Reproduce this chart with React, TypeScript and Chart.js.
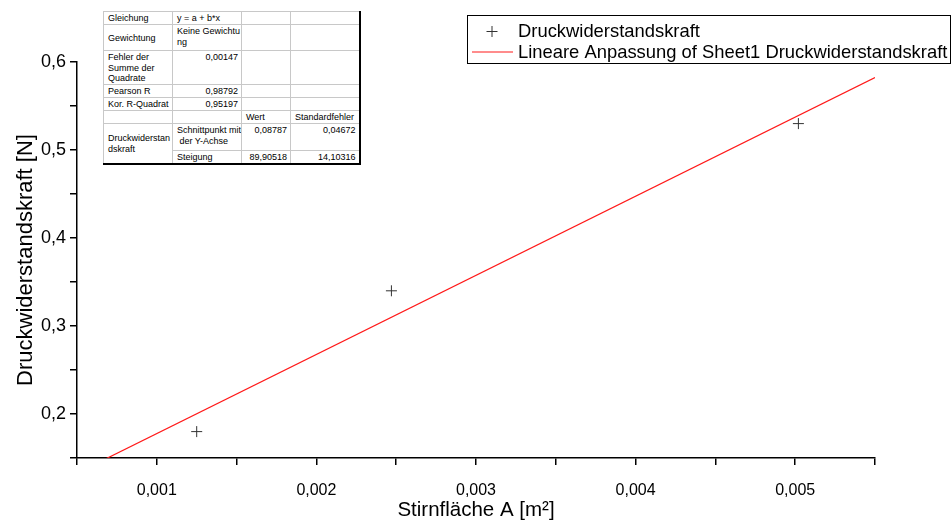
import React, { useEffect, useRef } from 'react';
import { Chart, registerables } from 'chart.js';

Chart.register(...registerables);

// Measured points: frontal area A [m²] vs. drag force [N]
const areaValues = [0.00125, 0.00247, 0.00502];
const forceValues = [0.18, 0.34, 0.53];

// Linear fit parameters y = a + b*x
const fitIntercept = 0.08787;
const fitSlope = 89.90518;

// Axis ranges and labelled ticks
const xMin = 0.0005;
const xMax = 0.0055;
const xStep = 0.0005;
const yMin = 0.15;
const yMax = 0.6;
const yStep = 0.05;
const xTickLabels = ['0,001', '0,002', '0,003', '0,004', '0,005'];
const yTickLabels = ['0,2', '0,3', '0,4', '0,5', '0,6'];

const pointLabel = 'Druckwiderstandskraft';
const fitLabel = 'Lineare Anpassung of Sheet1 Druckwiderstandskraft';
const xTitle = 'Stirnfläche A [m²]';
const yTitle = 'Druckwiderstandskraft [N]';

// Fit summary table contents
const fitEquation = 'y = a + b*x';
const fitWeighting = ['Keine Gewichtu', 'ng'];
const fitRss = '0,00147';
const fitPearson = '0,98792';
const fitAdjR2 = '0,95197';
const fitInterceptText = ['0,08787', '0,04672'];
const fitSlopeText = ['89,90518', '14,10316'];

const FONT = '"Liberation Sans", Arial, sans-serif';

const fmt = (v: number, digits: number) => v.toFixed(digits).replace('.', ',');
// true when v is (numerically) a whole multiple of unit
const isMultiple = (v: number, unit: number) => Math.abs(v / unit - Math.round(v / unit)) < 1e-6;

// Boxed legend drawn at the top right of the canvas
const boxLegend = {
  id: 'boxLegend',
  afterDraw(chart: any) {
    const ctx = chart.ctx;
    const left = 467.5;
    const top = 15.5;
    const right = 950.5;
    const bottom = 63.5;
    ctx.save();
    ctx.strokeStyle = '#000';
    ctx.lineWidth = 1;
    ctx.strokeRect(left, top, right - left, bottom - top);
    ctx.font = '18.4px ' + FONT;
    ctx.textBaseline = 'middle';
    ctx.fillStyle = '#000';
    chart.data.datasets.forEach((ds: any, i: number) => {
      const cy = 31 + i * 20.5;
      if (ds.showLine === false) {
        ctx.strokeStyle = ds.borderColor;
        ctx.lineWidth = 1;
        ctx.beginPath();
        ctx.moveTo(486.5, Math.round(cy) + 0.5);
        ctx.lineTo(497.5, Math.round(cy) + 0.5);
        ctx.moveTo(492, Math.round(cy) - 5);
        ctx.lineTo(492, Math.round(cy) + 6);
        ctx.stroke();
      } else {
        ctx.strokeStyle = ds.borderColor;
        ctx.lineWidth = 1.2;
        ctx.beginPath();
        ctx.moveTo(472, cy + 0.5);
        ctx.lineTo(513, cy + 0.5);
        ctx.stroke();
      }
      ctx.fillStyle = '#000';
      ctx.fillText(ds.label, 518, cy + 1);
    });
    ctx.restore();
  },
};

const cellBase: React.CSSProperties = {
  borderTop: '1px solid #c8c8c8',
  borderLeft: '1px solid #c8c8c8',
  padding: '1px 3px 0 4px',
  verticalAlign: 'top',
  whiteSpace: 'nowrap',
  overflow: 'hidden',
};
const right: React.CSSProperties = { ...cellBase, textAlign: 'right' };
const mid: React.CSSProperties = { ...cellBase, verticalAlign: 'middle' };

function FitTable() {
  return (
    <table
      style={{
        position: 'absolute',
        left: 103,
        top: 11,
        width: 256,
        borderCollapse: 'collapse',
        tableLayout: 'fixed',
        fontFamily: FONT,
        fontSize: 9,
        lineHeight: '10.5px',
        color: '#000',
        background: '#fff',
        borderTop: '1px solid #000',
        borderLeft: '1px solid #000',
        borderRight: '2px solid #000',
        borderBottom: '2px solid #000',
      }}
    >
      <colgroup>
        <col style={{ width: 69 }} />
        <col style={{ width: 69 }} />
        <col style={{ width: 49 }} />
        <col style={{ width: 69 }} />
      </colgroup>
      <tbody>
        <tr style={{ height: 13 }}>
          <td style={mid}>Gleichung</td>
          <td style={mid}>{fitEquation}</td>
          <td style={cellBase}></td>
          <td style={cellBase}></td>
        </tr>
        <tr style={{ height: 26 }}>
          <td style={mid}>Gewichtung</td>
          <td style={cellBase}>
            {fitWeighting[0]}
            <br />
            {fitWeighting[1]}
          </td>
          <td style={cellBase}></td>
          <td style={cellBase}></td>
        </tr>
        <tr style={{ height: 34 }}>
          <td style={cellBase}>
            Fehler der
            <br />
            Summe der
            <br />
            Quadrate
          </td>
          <td style={right}>{fitRss}</td>
          <td style={cellBase}></td>
          <td style={cellBase}></td>
        </tr>
        <tr style={{ height: 13 }}>
          <td style={mid}>Pearson R</td>
          <td style={right}>{fitPearson}</td>
          <td style={cellBase}></td>
          <td style={cellBase}></td>
        </tr>
        <tr style={{ height: 13 }}>
          <td style={mid}>Kor. R-Quadrat</td>
          <td style={right}>{fitAdjR2}</td>
          <td style={cellBase}></td>
          <td style={cellBase}></td>
        </tr>
        <tr style={{ height: 13 }}>
          <td style={cellBase}></td>
          <td style={cellBase}></td>
          <td style={mid}>Wert</td>
          <td style={mid}>Standardfehler</td>
        </tr>
        <tr style={{ height: 27 }}>
          <td style={mid} rowSpan={2}>
            Druckwiderstan
            <br />
            dskraft
          </td>
          <td style={cellBase}>
            Schnittpunkt mit
            <br />
            &nbsp;der Y-Achse
          </td>
          <td style={right}>{fitInterceptText[0]}</td>
          <td style={right}>{fitInterceptText[1]}</td>
        </tr>
        <tr style={{ height: 12 }}>
          <td style={mid}>Steigung</td>
          <td style={{ ...right, verticalAlign: 'middle' }}>{fitSlopeText[0]}</td>
          <td style={{ ...right, verticalAlign: 'middle' }}>{fitSlopeText[1]}</td>
        </tr>
      </tbody>
    </table>
  );
}

export default function App() {
  const canvasRef = useRef<HTMLCanvasElement | null>(null);

  useEffect(() => {
    const canvas = canvasRef.current;
    if (!canvas) return;

    const points = areaValues.map((x, i) => ({ x, y: forceValues[i] }));
    const fitLine = [xMin, xMax].map((x) => ({ x, y: fitIntercept + fitSlope * x }));

    const chart = new Chart(canvas, {
      type: 'scatter',
      data: {
        datasets: [
          {
            label: pointLabel,
            data: points,
            showLine: false,
            pointStyle: 'cross',
            pointRadius: 5.5,
            pointHoverRadius: 5.5,
            borderColor: '#333',
            backgroundColor: '#333',
            pointBorderWidth: 1,
          },
          {
            label: fitLabel,
            data: fitLine,
            showLine: true,
            pointRadius: 0,
            borderColor: '#ff1a1a',
            backgroundColor: '#ff1a1a',
            borderWidth: 1.2,
          },
        ],
      },
      options: {
        animation: false,
        responsive: false,
        maintainAspectRatio: false,
        layout: { padding: { left: 0, top: 62, right: 77, bottom: 0 } },
        plugins: {
          legend: { display: false },
          tooltip: { enabled: false },
        },
        scales: {
          x: {
            type: 'linear',
            position: 'bottom',
            min: xMin,
            max: xMax,
            afterFit: (scale: any) => {
              scale.height = 65;
            },
            ticks: {
              stepSize: xStep,
              autoSkip: false,
              maxRotation: 0,
              padding: 16,
              color: '#000',
              font: { family: FONT, size: 16 },
              callback: (v: any) => {
                const n = Number(v);
                if (!isMultiple(n, 0.001)) return '';
                const s = fmt(n, 3);
                return xTickLabels.includes(s) ? s : '';
              },
            },
            grid: {
              drawOnChartArea: false,
              drawTicks: true,
              tickLength: 7,
              color: '#000',
              lineWidth: 1.5,
            },
            border: { display: true, color: '#000', width: 1.5 },
            title: {
              display: true,
              text: xTitle,
              color: '#000',
              font: { family: FONT, size: 20.5 },
              padding: { top: 0, bottom: 0 },
            },
          },
          y: {
            type: 'linear',
            position: 'left',
            min: yMin,
            max: yMax,
            afterFit: (scale: any) => {
              scale.width = 77;
            },
            ticks: {
              stepSize: yStep,
              autoSkip: false,
              padding: 4,
              color: '#000',
              font: { family: FONT, size: 18 },
              callback: (v: any) => {
                const n = Number(v);
                if (!isMultiple(n, 0.1)) return '';
                const s = fmt(n, 1);
                return yTickLabels.includes(s) ? s : '';
              },
            },
            grid: {
              drawOnChartArea: false,
              drawTicks: true,
              tickLength: 7,
              color: '#000',
              lineWidth: 1.5,
            },
            border: { display: true, color: '#000', width: 1.5 },
            title: {
              display: true,
              text: yTitle,
              color: '#000',
              font: { family: FONT, size: 22 },
              padding: { top: 13, bottom: 0 },
            },
          },
        },
      },
      plugins: [boxLegend],
    });

    return () => chart.destroy();
  }, []);

  return (
    <div style={{ position: 'fixed', left: 0, top: 0, width: 952, height: 523, background: '#fff' }}>
      <canvas ref={canvasRef} width={952} height={523} style={{ display: 'block', width: 952, height: 523 }} />
      <FitTable />
    </div>
  );
}
